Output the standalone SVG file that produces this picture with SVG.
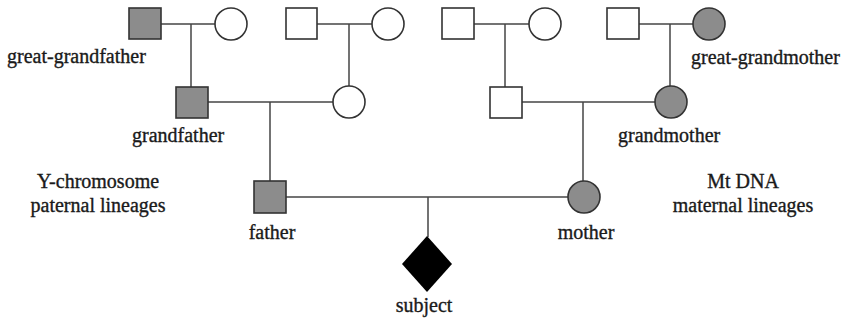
<svg xmlns="http://www.w3.org/2000/svg" width="849" height="320" viewBox="0 0 849 320">
<style>
.m{stroke:#333;stroke-width:1.6;fill:#fff}
.g{fill:#8c8c8c}
.c line{stroke:#444;stroke-width:1.5}
text{font-family:'Liberation Serif','Times New Roman',Times,serif;font-size:20px;fill:#1a1a1a;stroke:#1a1a1a;stroke-width:0.35}
</style>
<rect width="849" height="320" fill="#fff"/>
<g class="c" id="connectors">
<line x1="161" y1="24" x2="215" y2="24"/>
<line x1="191" y1="24" x2="191" y2="87"/>
<line x1="317" y1="24" x2="372" y2="24"/>
<line x1="349" y1="24" x2="349" y2="86"/>
<line x1="474" y1="24" x2="529" y2="24"/>
<line x1="505" y1="24" x2="505" y2="87"/>
<line x1="639" y1="24" x2="693" y2="24"/>
<line x1="670" y1="24" x2="670" y2="86"/>
<line x1="208" y1="102" x2="333" y2="102"/>
<line x1="270" y1="102" x2="270" y2="181"/>
<line x1="522" y1="102" x2="655" y2="102"/>
<line x1="583" y1="102" x2="583" y2="181"/>
<line x1="286" y1="197" x2="568" y2="197"/>
<line x1="428" y1="197" x2="428" y2="237"/>
</g>
<g id="ggf1"><rect class="m g" x="129" y="8" width="32" height="31"/></g>
<g id="ggm1"><circle class="m" cx="231" cy="24" r="16"/></g>
<g id="ggf2"><rect class="m" x="286" y="8" width="31" height="31"/></g>
<g id="ggm2"><circle class="m" cx="388" cy="24" r="16"/></g>
<g id="ggf3"><rect class="m" x="442" y="8" width="32" height="31"/></g>
<g id="ggm3"><circle class="m" cx="545" cy="24" r="16"/></g>
<g id="ggf4"><rect class="m" x="607" y="8" width="32" height="31"/></g>
<g id="ggm4"><circle class="m g" cx="709" cy="24" r="16"/></g>
<g id="gf1"><rect class="m g" x="176" y="87" width="32" height="31"/></g>
<g id="gm1"><circle class="m" cx="349" cy="102" r="16"/></g>
<g id="gf2"><rect class="m" x="490" y="87" width="32" height="31"/></g>
<g id="gm2"><circle class="m g" cx="671" cy="102" r="16"/></g>
<g id="father"><rect class="m g" x="254" y="181" width="32" height="32"/></g>
<g id="mother"><circle class="m g" cx="584" cy="197" r="16"/></g>
<g id="subject"><polygon points="427,236 452,264 427,292 402,264" fill="#000"/></g>
<g id="labels">
<text x="7" y="63">great-grandfather</text>
<text x="691" y="64">great-grandmother</text>
<text x="132" y="142">grandfather</text>
<text x="618" y="142">grandmother</text>
<text x="98" y="188" text-anchor="middle">Y-chromosome</text>
<text x="98" y="212" text-anchor="middle">paternal  lineages</text>
<text x="743" y="188" text-anchor="middle">Mt DNA</text>
<text x="743" y="212" text-anchor="middle">maternal  lineages</text>
<text x="272" y="239" text-anchor="middle">father</text>
<text x="586" y="239" text-anchor="middle">mother</text>
<text x="424" y="312" text-anchor="middle">subject</text>
</g>
</svg>
